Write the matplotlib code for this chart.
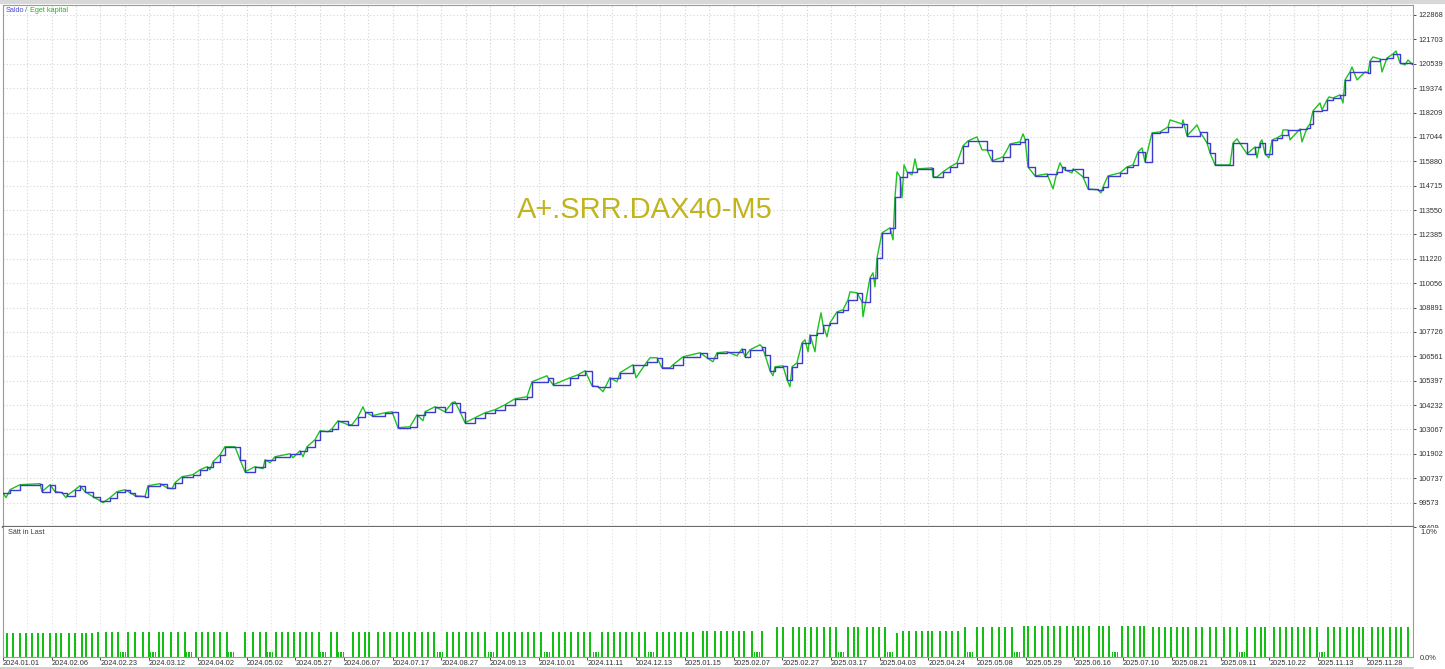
import numpy as np
import matplotlib.pyplot as plt
from matplotlib.patches import Rectangle
from matplotlib.lines import Line2D

plt.rcParams['font.family'] = ['Liberation Sans', 'DejaVu Sans']

# balance curve: (deal position, balance)
bal_x = [3, 10, 20, 40, 42, 50, 55, 62, 67, 75, 80, 85, 93, 100, 110, 117, 125, 130, 135, 145,
         148, 160, 167, 175, 182, 193, 200, 207, 213, 220, 225, 235, 240, 245, 255, 265, 275, 290,
         300, 307, 315, 320, 332, 338, 348, 358, 365, 372, 385, 392, 398, 410, 417, 425, 435, 445,
         452, 460, 465, 475, 485, 495, 505, 515, 527, 532, 548, 553, 570, 578, 585, 592, 598, 610,
         620, 633, 647, 657, 662, 673, 683, 700, 707, 717, 727, 742, 745, 750, 762, 765, 770, 775,
         783, 787, 792, 797, 802, 810, 817, 823, 830, 837, 843, 848, 857, 862, 870, 877, 882, 890,
         895, 900, 907, 917, 932, 933, 943, 950, 957, 963, 968, 987, 992, 1003, 1010, 1020, 1025,
         1028, 1035, 1047, 1057, 1062, 1065, 1073, 1083, 1088, 1098, 1103, 1108, 1120, 1127, 1133,
         1138, 1145, 1152, 1160, 1168, 1182, 1187, 1200, 1207, 1210, 1215, 1233, 1247, 1255, 1260,
         1265, 1272, 1277, 1282, 1288, 1300, 1307, 1310, 1313, 1322, 1327, 1333, 1340, 1345, 1350,
         1365, 1368, 1370, 1380, 1387, 1393, 1400, 1412]
bal_v = [100048, 100191, 100430, 100478, 100096, 100430, 100096, 100048, 99905, 100191, 100382,
         100096, 99857, 99666, 99809, 100096, 100191, 100048, 99905, 99857, 100382, 100478, 100287,
         100526, 100812, 100907, 101146, 101289, 101528, 101862, 102244, 102244, 101624, 101051,
         101289, 101624, 101767, 101910, 102053, 102244, 102578, 103008, 103104, 103485, 103294,
         103676, 103915, 103724, 103867, 103915, 103151, 103199, 103772, 103915, 104154, 103915,
         104345, 103915, 103390, 103629, 103867, 104011, 104249, 104536, 104631, 105347, 105538,
         105204, 105538, 105681, 105872, 105156, 105109, 105538, 105777, 106159, 106302, 106493,
         106016, 106159, 106541, 106732, 106493, 106732, 106780, 106923, 106541, 106875, 107018,
         106636, 105872, 106063, 106111, 105443, 106063, 106254, 107209, 107591, 107687, 108068,
         108164, 108689, 108785, 109262, 109596, 109167, 110312, 111267, 112461, 112699, 114179,
         115134, 115373, 115516, 115564, 115134, 115373, 115611, 115802, 116614, 116853, 116423,
         115898, 116089, 116709, 116805, 116948, 115611, 115182, 115277, 115373, 115611, 115468,
         115516, 115134, 114561, 114513, 114657, 115182, 115325, 115611, 115707, 116328, 115850,
         117235, 117282, 117521, 117664, 117091, 117282, 116757, 116280, 115707, 116757, 116232,
         116566, 116757, 116232, 116900, 116996, 117139, 117378, 117426, 117473, 117664, 118285,
         118333, 118810, 118905, 119049, 119765, 120147, 120147, 120099, 120672, 120767, 120815,
         121006, 120576, 120529]

# equity swings between closed deals
spike_x = [6, 66, 103, 172, 210, 263, 270, 293, 303, 328, 352, 363, 423, 455, 547, 603, 617,
           636, 650, 670, 713, 737, 760, 773, 790, 805, 808, 815, 821, 827, 850, 863, 873, 875,
           893, 897, 902, 904, 912, 915, 937, 977, 982, 1007, 1023, 1053, 1060, 1072, 1101, 1142,
           1170, 1183, 1197, 1230, 1237, 1257, 1262, 1269, 1283, 1290, 1302, 1320, 1329, 1343,
           1352, 1357, 1373, 1382, 1396, 1405, 1408]
spike_v = [99809, 99809, 99571, 100239, 101146, 101194, 101480, 101719, 101767, 102960, 103294,
           104154, 103485, 104393, 105634, 104870, 105347, 105538, 106493, 106016, 106302, 106589,
           107114, 105634, 105109, 107352, 106780, 106780, 108641, 107496, 109644, 108450, 110551,
           109883, 112126, 115373, 114131, 115707, 115229, 115993, 115134, 117044, 116423, 116423,
           117187, 114561, 115802, 115325, 114370, 116518, 117855, 117855, 117616, 115707, 116948,
           116041, 116900, 116041, 117378, 116900, 116805, 118667, 118953, 118667, 120385, 119765,
           120863, 120147, 121149, 120481, 120720]

y_ticks = [98409, 99573, 100737, 101902, 103067, 104232, 105397, 106561, 107726, 108891, 110056,
           111220, 112385, 113550, 114715, 115880, 117044, 118209, 119374, 120539, 121703, 122868]

dates = ['2024.01.01', '2024.02.06', '2024.02.23', '2024.03.12', '2024.04.02', '2024.05.02',
         '2024.05.27', '2024.06.07', '2024.07.17', '2024.08.27', '2024.09.13', '2024.10.01',
         '2024.11.11', '2024.12.13', '2025.01.15', '2025.02.07', '2025.02.27', '2025.03.17',
         '2025.04.03', '2025.04.24', '2025.05.08', '2025.05.29', '2025.06.16', '2025.07.10',
         '2025.08.21', '2025.09.11', '2025.10.22', '2025.11.13', '2025.11.28']

# deposit load (%) per trade, grouped by level
load_groups = [
    (0.19, [7, 13, 20, 26, 32, 38, 43, 50, 56, 61, 69, 75, 82, 86, 92]),
    (0.20, [98, 106, 112, 118, 128, 135, 143, 149, 159, 163, 171, 178, 185, 196, 202, 208, 214,
            220, 227, 245, 253, 260, 266, 276, 282, 288, 294, 300, 306, 312, 319, 331, 337, 353,
            359, 365, 369, 378, 384, 390, 397, 403, 409, 415, 422, 428, 434, 447, 453, 459, 466,
            472, 478, 485, 497, 503, 509, 515, 522, 528, 534, 541, 553, 559, 565, 571, 578, 584,
            590, 602, 608, 614, 620, 626, 632, 639, 645, 657, 663, 669, 675, 681, 687, 693]),
    (0.21, [703, 707, 715, 721, 727, 733, 739, 744, 752, 762]),
    (0.235, [777, 783, 793, 799, 805, 811, 817, 824, 830, 836, 848, 854, 858, 867, 873, 879, 885]),
    (0.19, [897]),
    (0.21, [903, 909, 916, 922, 928, 932, 940, 946, 952, 958]),
    (0.235, [965, 977, 983, 992, 999, 1005, 1012]),
    (0.245, [1024, 1028, 1035, 1042, 1048, 1054, 1060, 1067, 1073, 1078, 1083, 1089, 1099, 1103,
             1109, 1122, 1128, 1134, 1140, 1144]),
    (0.24, [1153, 1159, 1165, 1171, 1177, 1183, 1188, 1196, 1202, 1210, 1216, 1224, 1230, 1237,
            1247, 1255, 1261, 1265, 1274, 1280, 1286, 1292, 1298, 1304, 1310, 1317, 1328, 1334,
            1340, 1347, 1353, 1359, 1363, 1372, 1378, 1383, 1390, 1396, 1401, 1408]),
]
small_x = [119, 149, 185, 227, 266, 319, 337, 436, 487, 543, 592, 647, 753, 837, 886, 966, 1013,
           1111, 1238, 1318]
small_h = 0.04

W, H = 1445, 669


def rect(l, t, r, b):
    return [l / W, 1 - b / H, (r - l) / W, (b - t) / H]


fig = plt.figure(figsize=(W / 100, H / 100), dpi=100)
fig.patch.set_facecolor('white')

ax = fig.add_axes(rect(3, 5, 1413, 527))
ax2 = fig.add_axes(rect(3, 527, 1413, 657))
ax2.set_zorder(3)

grid_x = np.arange(3, 1413, 24.35)
label_x = grid_x[::2][:len(dates)]
gcol = '#d4d4d4'

# top panel
eq = sorted(zip(bal_x + spike_x, bal_v + spike_v))
ax.plot([p[0] for p in eq], [p[1] for p in eq], color='#1ec21e', lw=1.0, zorder=3)
ax.plot(bal_x, bal_v, color='#3b3bd2', lw=1.0, drawstyle='steps-post', zorder=4)
ax.set_xlim(3, 1413)
ax.set_ylim(98409, 123345)
ax.set_yticks(y_ticks)
ax.set_yticklabels([str(v) for v in y_ticks])
ax.yaxis.tick_right()
ax.tick_params(axis='y', direction='out', length=2, width=0.6, pad=2, labelsize=5.3,
               colors='#303030')
ax.set_xticks(grid_x)
ax.tick_params(axis='x', length=0, labelbottom=False)
ax.grid(True, color=gcol, lw=0.8, ls=(0, (1, 2)))
for s in ['left', 'top', 'right']:
    ax.spines[s].set_color('#9a9a9a')
    ax.spines[s].set_linewidth(0.8)
ax.spines['bottom'].set_color('#6e6e6e')
ax.spines['bottom'].set_linewidth(1.6)

ax.text(0.455, 0.608, 'A+.SRR.DAX40-M5', transform=ax.transAxes, fontsize=21,
        color='#c2b41c', ha='center', va='center', zorder=5)

fig.text(6 / W, 1 - 10 / H, 'Saldo', color='#4b4bd0', fontsize=5.3, va='center')
fig.text(25 / W, 1 - 10 / H, '/', color='#606060', fontsize=5.3, va='center')
fig.text(30 / W, 1 - 10 / H, 'Eget kapital', color='#22b822', fontsize=5.3, va='center')

# hide the lower half of the cut-off bottom label
fig.add_artist(Rectangle((1414 / W, 0), 31 / W, 1 - 527.5 / H, transform=fig.transFigure,
                         facecolor='white', edgecolor='none', zorder=2))

# lower panel
for h, xs in load_groups:
    ax2.bar(xs, [h] * len(xs), width=2.0, color='#12c012', align='center')
for sx in small_x:
    ax2.bar([sx + 1.5, sx + 3, sx + 4.5, sx + 6], [small_h] * 4, width=1.0, color='#12c012')
ax2.set_xlim(3, 1413)
ax2.set_ylim(0, 1.032)
ax2.set_yticks([0, 1.0])
ax2.set_yticklabels(['0.0%', '1.0%'])
ax2.yaxis.tick_right()
ax2.tick_params(axis='y', length=0, pad=5, labelsize=5.3, colors='#303030')
ax2.set_xticks(grid_x, minor=True)
ax2.set_xticks(label_x)
ax2.set_xticklabels(dates)
for lb in ax2.get_xticklabels():
    lb.set_ha('left')
ax2.tick_params(axis='x', which='major', length=2, width=0.6, pad=0.5, labelsize=5.3,
                colors='#303030')
ax2.tick_params(axis='x', which='minor', length=0)
ax2.grid(True, axis='x', which='both', color='#e2e2e2', lw=0.8, ls=(0, (1, 2)))
ax2.set_axisbelow(True)
for s in ['left', 'right', 'bottom']:
    ax2.spines[s].set_color('#9a9a9a')
    ax2.spines[s].set_linewidth(0.8)
ax2.spines['top'].set_visible(False)
ax2.text(5 / 1410, 0.985, 'Sätt in Last', transform=ax2.transAxes, fontsize=5.3,
         color='#404040', va='top', ha='left')

# window border lines
fig.add_artist(Line2D([0, 1], [1 - 1.5 / H, 1 - 1.5 / H], transform=fig.transFigure,
                      color='#d8d8d8', lw=3))
fig.add_artist(Line2D([0, 1413 / W], [1 - 667.5 / H, 1 - 667.5 / H],
                      transform=fig.transFigure, color='#c8c8c8', lw=1.2))

fig.savefig('out.png', dpi=100, facecolor='white')
